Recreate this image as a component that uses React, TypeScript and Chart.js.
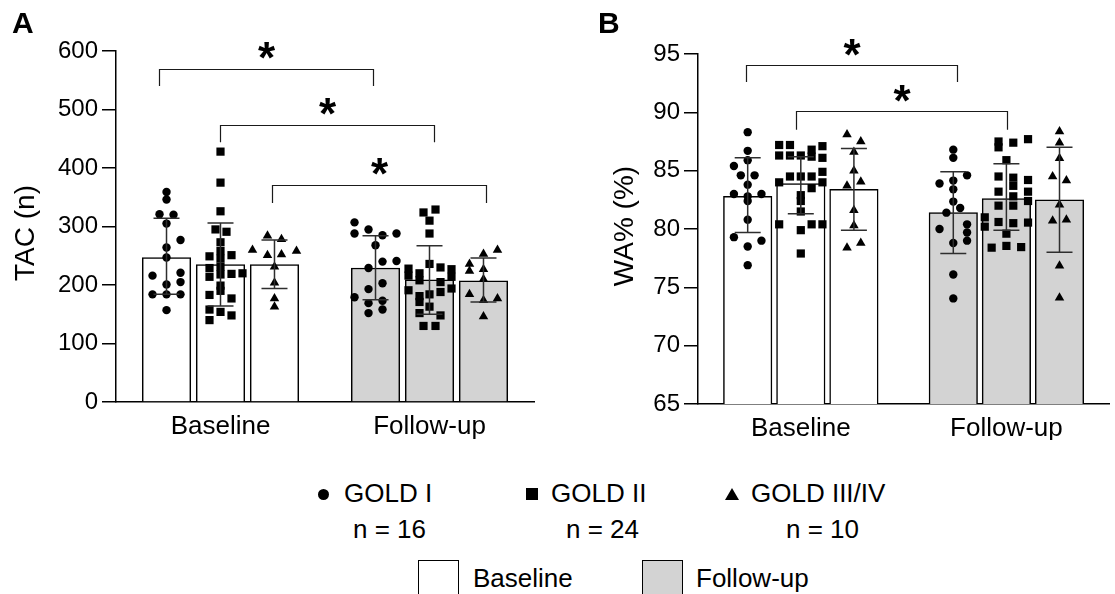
import React, { useEffect, useRef } from 'react';
import { Chart, registerables } from 'chart.js';

Chart.register(...registerables);

const FONT = "'Liberation Sans', Arial, Helvetica, sans-serif";
const INK = '#000000';
const ERR_INK = '#2e2e2e';
const FOLLOW_FILL = '#d3d3d3';

// ---------- shared ----------
const timepoints = ['Baseline', 'Follow-up'];
const goldGroups = ['GOLD I', 'GOLD II', 'GOLD III/IV'];
const goldCounts = [16, 24, 10];

// ---------- Panel A : TAC (n) ----------
const tacTicks = [0, 100, 200, 300, 400, 500, 600];
const tacMeanG1 = [247, 229];
const tacMeanG2 = [235, 209];
const tacMeanG3 = [235, 207];
const tacLowG1 = [184, 175];
const tacHighG1 = [314, 284];
const tacLowG2 = [164, 150];
const tacHighG2 = [306, 267];
const tacLowG3 = [194, 171];
const tacHighG3 = [277, 246];
// individual patients: [value, horizontal jitter (px)]
const tacBaseG1 = [[359, 0], [346, 0], [321, -7], [320, 7], [305, 0], [277, 14], [264, 0], [247, 0], [216, -14], [221, 14], [201, 0], [205, 14], [184, -14], [184, 0], [184, 14], [157, 0]];
const tacBaseG2 = [[428, 0], [375, 0], [326, 0], [295, -5], [291, 6], [273, 0], [258, 0], [249, -11], [245, 0], [251, 11], [229, -11], [231, 0], [214, -11], [218, 0], [219, 11], [220, 22], [199, 0], [190, 0], [183, -11], [177, 11], [158, -11], [154, 0], [148, 11], [140, -11]];
const tacBaseG3 = [[284, -7], [278, 7], [260, -22], [251, -7], [252, 7], [258, 22], [231, 0], [204, 0], [177, 0], [163, 0]];
const tacFuG1 = [[307, -21], [288, -21], [295, -7], [285, 7], [288, 21], [268, 0], [240, 7], [241, 21], [229, -7], [203, 7], [193, -7], [179, -21], [169, -7], [173, 7], [152, -7], [158, 7]];
const tacFuG2 = [[324, -6], [329, 6], [310, 0], [288, 0], [236, 0], [230, 11], [228, -21], [216, -21], [220, -10], [208, -10], [227, 22], [214, 22], [205, 11], [191, -21], [188, 11], [194, 22], [184, 0], [181, -10], [171, -10], [163, 0], [152, -10], [148, 11], [130, -6], [130, 6]];
const tacFuG3 = [[253, 0], [260, 14], [236, -14], [224, -14], [227, 0], [210, 0], [184, -14], [174, 0], [177, 14], [146, 0]];
// significance brackets (x on the time axis, y in data units)
const tacBrFrom = [-0.296, -0.004, 0.246];
const tacBrTo = [0.728, 1.02, 1.27];
const tacBrY = [569, 474, 371];
const tacBrLeg = [540, 444, 340];
const tacBrLabel = ['*', '*', '*'];

// ---------- Panel B : WA% (%) ----------
const waTicks = [65, 70, 75, 80, 85, 90, 95];
const waMeanG1 = [82.8, 81.4];
const waMeanG2 = [83.9, 82.6];
const waMeanG3 = [83.4, 82.5];
const waLowG1 = [79.7, 77.9];
const waHighG1 = [86.1, 84.9];
const waLowG2 = [81.3, 79.9];
const waHighG2 = [86.2, 85.6];
const waLowG3 = [79.9, 78.0];
const waHighG3 = [86.9, 87.0];
const waBaseG1 = [[88.3, 0], [86.7, 0], [85.9, 0], [85.4, -14], [84.6, -7], [84.6, 7], [83.8, 0], [83.0, -14], [83.0, 14], [82.8, 0], [82.4, 0], [80.8, 0], [79.3, -14], [79.0, 14], [78.5, 0], [76.9, 0]];
const waBaseG2 = [[87.2, -22], [87.2, -11], [86.8, 11], [87.1, 22], [86.3, -22], [86.3, -11], [86.3, 0], [86.2, 11], [86.1, 22], [84.9, 22], [84.5, -11], [84.5, 0], [84.5, 11], [84.0, -22], [84.0, 22], [83.5, 11], [82.9, 0], [82.4, 0], [81.5, 0], [80.4, -22], [80.4, 11], [80.4, 22], [79.9, 0], [77.9, 0]];
const waBaseG3 = [[88.1, -7], [87.5, 7], [86.6, 0], [85.0, 0], [84.05, 7], [83.7, -7], [81.6, 0], [80.3, 0], [78.4, -7], [78.8, 7]];
const waFuG1 = [[86.8, 0], [86.1, 0], [84.6, 14], [83.9, -14], [84.15, 0], [83.4, 0], [82.35, 0], [81.8, 7], [81.4, -7], [80.4, 14], [80.0, -14], [79.7, 14], [79.0, 14], [78.8, 0], [76.1, 0], [74.05, 0]];
const waFuG2 = [[87.5, -8], [87.0, -8], [87.4, 7], [87.7, 22], [85.9, 0], [84.5, -8], [84.4, 7], [83.7, 7], [84.2, 22], [83.2, -8], [83.2, 22], [82.4, 22], [82.8, 7], [82.0, -8], [82.0, 7], [81.0, -22], [80.2, -22], [80.6, -8], [80.5, 7], [80.55, 22], [79.6, 0], [78.4, -15], [78.55, 0], [78.45, 15]];
const waFuG3 = [[88.35, 0], [87.4, 0], [86.06, 0], [84.5, -7], [84.15, 7], [82.07, 0], [80.7, -7], [80.8, 7], [76.85, 0], [74.1, 0]];
const waBrFrom = [-0.265, -0.022];
const waBrTo = [0.76, 1.003];
const waBrY = [94.1, 90.1];
const waBrLeg = [92.6, 88.5];
const waBrLabel = ['*', '*'];

// ---------- style constants ----------
const BAR_SPACING = 0.2583; // distance between neighbouring bars, in time-axis units
const BAR_W = 48.5; // px
const PX_PER_UNIT = 209;
const MARKERS = ['circle', 'rect', 'triangle'];
const MARKER_R = [4.2, 5.8, 5.5];
const CAP_HALF = 13;
const STAR_FONT = 44;
const TITLE_FONT = 28;

type Panel = {
  ticks: number[];
  means: number[][];
  lows: number[][];
  highs: number[][];
  points: number[][][][];
  brFrom: number[];
  brTo: number[];
  brY: number[];
  brLeg: number[];
  brLabel: string[];
  title: string;
  width: number;
  height: number;
  axisWidth: number;
  axisHeight: number;
  padTop: number;
  padRight: number;
  titleX: number;
  titleY: number;
  starGap: number;
};

const panelA: Panel = {
  ticks: tacTicks,
  means: [tacMeanG1, tacMeanG2, tacMeanG3],
  lows: [tacLowG1, tacLowG2, tacLowG3],
  highs: [tacHighG1, tacHighG2, tacHighG3],
  points: [[tacBaseG1, tacFuG1], [tacBaseG2, tacFuG2], [tacBaseG3, tacFuG3]],
  brFrom: tacBrFrom, brTo: tacBrTo, brY: tacBrY, brLeg: tacBrLeg, brLabel: tacBrLabel,
  title: 'TAC (n)',
  width: 545, height: 440, axisWidth: 116, axisHeight: 38, padTop: 51, padRight: 11,
  titleX: 26, titleY: 233, starGap: 21,
};

const panelB: Panel = {
  ticks: waTicks,
  means: [waMeanG1, waMeanG2, waMeanG3],
  lows: [waLowG1, waLowG2, waLowG3],
  highs: [waHighG1, waHighG2, waHighG3],
  points: [[waBaseG1, waFuG1], [waBaseG2, waFuG2], [waBaseG3, waFuG3]],
  brFrom: waBrFrom, brTo: waBrTo, brY: waBrY, brLeg: waBrLeg, brLabel: waBrLabel,
  title: 'WA% (%)',
  width: 555, height: 440, axisWidth: 138, axisHeight: 36, padTop: 54, padRight: 0,
  titleX: 65, titleY: 226, starGap: 20,
};

const overlay = {
  id: 'overlay',
  afterDatasetsDraw(chart: any, _args: any, o: any) {
    const ctx = chart.ctx as CanvasRenderingContext2D;
    const ys = chart.scales.y;
    const xs = chart.scales.x;
    ctx.save();
    // error bars (mean ± SD), centred on each bar element
    ctx.strokeStyle = ERR_INK;
    ctx.lineWidth = 1.5;
    o.lows.forEach((lo: number[], g: number) => {
      const meta = chart.getDatasetMeta(g);
      lo.forEach((low: number, t: number) => {
        const bar = meta.data[t];
        const x = bar.x;
        const yl = ys.getPixelForValue(low);
        const yh = ys.getPixelForValue(o.highs[g][t]);
        ctx.beginPath();
        ctx.moveTo(x, yl);
        ctx.lineTo(x, yh);
        ctx.moveTo(x - CAP_HALF, yl);
        ctx.lineTo(x + CAP_HALF, yl);
        ctx.moveTo(x - CAP_HALF, yh);
        ctx.lineTo(x + CAP_HALF, yh);
        ctx.stroke();
      });
    });
    // significance brackets
    ctx.strokeStyle = '#1a1a1a';
    ctx.lineWidth = 1.2;
    ctx.fillStyle = INK;
    ctx.font = `bold ${STAR_FONT}px ${FONT}`;
    ctx.textAlign = 'center';
    ctx.textBaseline = 'alphabetic';
    o.brFrom.forEach((from: number, i: number) => {
      const x1 = Math.round(xs.getPixelForValue(from)) + 0.5;
      const x2 = Math.round(xs.getPixelForValue(o.brTo[i])) + 0.5;
      const yt = Math.round(ys.getPixelForValue(o.brY[i])) + 0.5;
      const yb = ys.getPixelForValue(o.brLeg[i]);
      ctx.beginPath();
      ctx.moveTo(x1, yb);
      ctx.lineTo(x1, yt);
      ctx.lineTo(x2, yt);
      ctx.lineTo(x2, yb);
      ctx.stroke();
      ctx.fillText(o.brLabel[i], (x1 + x2) / 2, yt - o.starGap + STAR_FONT * 0.565);
    });
    // y axis title
    ctx.translate(o.titleX, o.titleY);
    ctx.rotate(-Math.PI / 2);
    ctx.font = `${TITLE_FONT}px ${FONT}`;
    ctx.textBaseline = 'middle';
    ctx.fillText(o.title, 0, 0);
    ctx.restore();
  },
};

function buildChart(canvas: HTMLCanvasElement, p: Panel) {
  const barSets = p.means.map((m, g) => ({
    type: 'bar',
    label: goldGroups[g],
    data: m.map((v, t) => ({ x: t + (g - 1) * BAR_SPACING, y: v })),
    xAxisID: 'x',
    yAxisID: 'y',
    backgroundColor: ['#ffffff', FOLLOW_FILL],
    borderColor: INK,
    borderWidth: 1.5,
    grouped: false,
    barThickness: BAR_W,
    order: 2,
  }));
  const dotSets = p.points.map((byTime, g) => ({
    type: 'scatter',
    label: goldGroups[g] + ' patients',
    xAxisID: 'x',
    yAxisID: 'y',
    data: byTime.flatMap((pts, t) =>
      pts.map(([v, j]) => ({ x: t + (g - 1) * BAR_SPACING + j / PX_PER_UNIT, y: v }))
    ),
    pointStyle: MARKERS[g],
    pointRadius: MARKER_R[g],
    pointBackgroundColor: INK,
    pointBorderWidth: 0,
    backgroundColor: INK,
    borderColor: INK,
    showLine: false,
    order: 1,
    clip: false,
  }));
  return new Chart(canvas, {
    type: 'bar',
    data: { datasets: [...barSets, ...dotSets] as any },
    options: {
      responsive: false,
      animation: false,
      events: [],
      layout: { padding: { top: p.padTop, right: p.padRight, bottom: 0, left: 0 } },
      plugins: {
        legend: { display: false },
        tooltip: { enabled: false },
        overlay: {
          lows: p.lows, highs: p.highs,
          brFrom: p.brFrom, brTo: p.brTo, brY: p.brY, brLeg: p.brLeg, brLabel: p.brLabel,
          title: p.title, titleX: p.titleX, titleY: p.titleY, starGap: p.starGap,
        },
      } as any,
      scales: {
        x: {
          type: 'linear',
          position: 'bottom',
          min: -0.5,
          max: 1.5,
          offset: false,
          afterBuildTicks: (ax: any) => { ax.ticks = timepoints.map((_, i) => ({ value: i })); },
          grid: { display: false, drawTicks: false, tickLength: 0, offset: false },
          border: { display: true, color: INK, width: 1.5 },
          ticks: {
            color: INK, font: { size: 26, family: FONT }, padding: 9, maxRotation: 0, autoSkip: false,
            callback: (v: any) => timepoints[Math.round(Number(v))] ?? '',
          },
          afterFit: (ax: any) => { ax.height = p.axisHeight; },
        },
        y: {
          type: 'linear',
          position: 'left',
          min: p.ticks[0],
          max: p.ticks[p.ticks.length - 1],
          afterBuildTicks: (ax: any) => { ax.ticks = p.ticks.map((v) => ({ value: v })); },
          ticks: { color: INK, font: { size: 24, family: FONT }, padding: 4 },
          grid: { drawOnChartArea: false, drawTicks: true, tickLength: 14, color: INK, lineWidth: 1.5 },
          border: { display: true, color: INK, width: 1.5 },
          afterFit: (ax: any) => { ax.width = p.axisWidth; },
        },
      } as any,
    },
    plugins: [overlay as any],
  } as any);
}

function PanelChart({ panel, left }: { panel: Panel; left: number }) {
  const ref = useRef<HTMLCanvasElement | null>(null);
  useEffect(() => {
    if (!ref.current) return;
    const chart = buildChart(ref.current, panel);
    return () => chart.destroy();
  }, [panel]);
  return (
    <canvas
      ref={ref}
      width={panel.width}
      height={panel.height}
      style={{ position: 'absolute', left, top: 0, width: panel.width, height: panel.height }}
    />
  );
}

const LEG_FS = 26;
const legendMarkerCenterX = [323, 532, 732];
const legendTextLeft = [344, 551, 751];
const legendCountLeft = [353, 566, 786];
const legendRowY = 494;
const legendCountY = 529;

function Marker({ g }: { g: number }) {
  const cx = legendMarkerCenterX[g];
  if (g === 0) {
    return <div style={{ position: 'absolute', left: cx - 5.5, top: legendRowY - 5.5, width: 11, height: 11, borderRadius: '50%', background: INK }} />;
  }
  if (g === 1) {
    return <div style={{ position: 'absolute', left: cx - 6, top: legendRowY - 6, width: 12, height: 12, background: INK }} />;
  }
  return (
    <div
      style={{
        position: 'absolute', left: cx - 7, top: legendRowY - 6, width: 0, height: 0,
        borderLeft: '7px solid transparent', borderRight: '7px solid transparent', borderBottom: `12px solid ${INK}`,
      }}
    />
  );
}

const textStyle = (left: number, cy: number): React.CSSProperties => ({
  position: 'absolute', left, top: cy - LEG_FS * 0.49, fontSize: LEG_FS, lineHeight: `${LEG_FS}px`,
  fontFamily: FONT, color: INK, whiteSpace: 'nowrap',
});

export default function App() {
  return (
    <div style={{ position: 'absolute', left: 0, top: 0, width: 1115, height: 594, overflow: 'hidden', background: '#fff', fontFamily: FONT }}>
      <PanelChart panel={panelA} left={0} />
      <PanelChart panel={panelB} left={560} />
      <div style={{ position: 'absolute', left: 12, top: 8, fontSize: 30, lineHeight: '30px', fontWeight: 'bold', fontFamily: FONT }}>A</div>
      <div style={{ position: 'absolute', left: 598, top: 8, fontSize: 30, lineHeight: '30px', fontWeight: 'bold', fontFamily: FONT }}>B</div>
      {goldGroups.map((name, g) => (
        <React.Fragment key={name}>
          <Marker g={g} />
          <div style={textStyle(legendTextLeft[g], legendRowY - 1)}>{name}</div>
          <div style={textStyle(legendCountLeft[g], legendCountY)}>{`n = ${goldCounts[g]}`}</div>
        </React.Fragment>
      ))}
      <div style={{ position: 'absolute', left: 418, top: 560, width: 41, height: 48, boxSizing: 'border-box', border: `1.5px solid ${INK}`, background: '#fff' }} />
      <div style={textStyle(473, 578)}>{timepoints[0]}</div>
      <div style={{ position: 'absolute', left: 642, top: 560, width: 41, height: 48, boxSizing: 'border-box', border: `1.5px solid ${INK}`, background: FOLLOW_FILL }} />
      <div style={textStyle(696, 578)}>{timepoints[1]}</div>
    </div>
  );
}
